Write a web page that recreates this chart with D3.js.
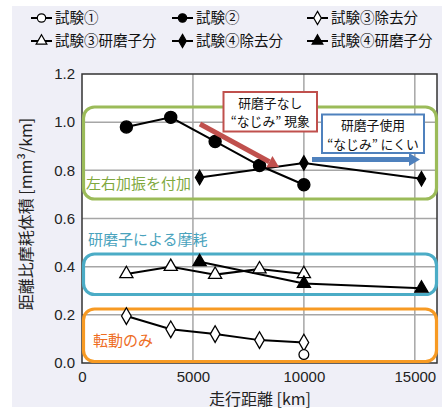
<!DOCTYPE html>
<html><head><meta charset="utf-8">
<script src="https://cdn.jsdelivr.net/npm/d3@7"></script>
<style>body{margin:0;background:#fff}svg{display:block}</style>
</head><body>
<svg id="c" width="442" height="416"></svg>
<script>
const xTicks = [0, 5000, 10000, 15000];
const yTicks = [0.0, 0.2, 0.4, 0.6, 0.8, 1.0, 1.2];
const test1X = [10000];
const test1Y = [0.035];
const test2X = [2000, 4000, 6000, 8000, 10000];
const test2Y = [0.98, 1.02, 0.92, 0.82, 0.74];
const test3RemX = [2000, 4000, 6000, 8000, 10000];
const test3RemY = [0.195, 0.14, 0.12, 0.095, 0.085];
const test3AbrX = [2000, 4000, 6000, 8000, 10000];
const test3AbrY = [0.37, 0.40, 0.367, 0.39, 0.37];
const test4RemX = [5300, 10000, 15300];
const test4RemY = [0.77, 0.83, 0.765];
const test4AbrX = [5300, 10000, 15300];
const test4AbrY = [0.42, 0.33, 0.31];
const legendLabels = ["試験①","試験②","試験③除去分","試験③研磨子分","試験④除去分","試験④研磨子分"];

const svg = d3.select("#c");
const JP = "'Noto Sans CJK JP', sans-serif";
const NUM = "'Liberation Sans', Arial, sans-serif";
const M = {l:82, r:437, t:74, b:363};
const x = d3.scaleLinear().domain([0,16000]).range([M.l, M.r]);
const y = d3.scaleLinear().domain([0,1.2]).range([M.b, M.t]);

svg.append("rect").attr("x",12).attr("y",6).attr("width",430).attr("height",401).attr("fill","#efeff7");
svg.append("rect").attr("x",M.l).attr("y",M.t).attr("width",M.r-M.l).attr("height",M.b-M.t).attr("fill","#fff");

// grid
svg.append("g").selectAll("line").data(yTicks.filter(d=>d>0&&d<1.2)).join("line")
  .attr("x1",M.l).attr("x2",M.r).attr("y1",d=>y(d)).attr("y2",d=>y(d))
  .attr("stroke","#a6a6a6").attr("stroke-width",1.5);
svg.append("g").selectAll("line").data(xTicks.filter(d=>d>0)).join("line")
  .attr("y1",M.t).attr("y2",M.b).attr("x1",d=>x(d)).attr("x2",d=>x(d))
  .attr("stroke","#a6a6a6").attr("stroke-width",1.5);

// axes
const ya = svg.append("g").attr("transform",`translate(${M.l},0)`)
  .call(d3.axisLeft(y).tickValues(yTicks).tickFormat(d3.format(".1f")).tickSize(0).tickPadding(7));
const xa = svg.append("g").attr("transform",`translate(0,${M.b})`)
  .call(d3.axisBottom(x).tickValues(xTicks).tickFormat(d=>d).tickSize(0).tickPadding(8));
[ya,xa].forEach(a=>{a.select(".domain").remove();a.selectAll("text").attr("font-family",NUM).attr("font-size",15).attr("fill","#222");});
svg.append("rect").attr("x",M.l).attr("y",M.t).attr("width",M.r-M.l).attr("height",M.b-M.t)
  .attr("fill","none").attr("stroke","#333").attr("stroke-width",1.5);

svg.append("text").attr("transform","translate(32,214) rotate(-90)").attr("text-anchor","middle")
  .attr("font-family",JP).attr("font-size",16).attr("fill","#222").text("距離比摩耗体積 [mm³/km]");
svg.append("text").attr("x",260).attr("y",405).attr("text-anchor","middle")
  .attr("font-family",JP).attr("font-size",16).attr("fill","#222").text("走行距離 [km]");

// region boxes
function rbox(x0,y0,x1,y1,col){
  svg.append("rect").attr("x",x0).attr("y",y0).attr("width",x1-x0).attr("height",y1-y0)
    .attr("rx",11).attr("fill","none").attr("stroke",col).attr("stroke-width",3.2);
}
rbox(83.5,107,436.5,199,"#9bbb59");
rbox(83.5,254,436.5,294.5,"#4bacc6");
rbox(83.5,309,436.5,361.5,"#f79a23");
svg.append("text").attr("x",86).attr("y",189).attr("font-family",JP).attr("font-size",15).attr("fill","#7fa83e").text("左右加振を付加");
svg.append("text").attr("x",88).attr("y",245).attr("font-family",JP).attr("font-size",15).attr("fill","#4aa3bd").text("研磨子による摩耗");
svg.append("text").attr("x",93).attr("y",346).attr("font-family",JP).attr("font-size",15).attr("fill","#ee6d1f").text("転動のみ");

// data lines
const series = [
  {xs:test2X, ys:test2Y, sym:"circle", fill:"#000", size:115},
  {xs:test4RemX, ys:test4RemY, sym:"diamond", fill:"#000", size:60},
  {xs:test3AbrX, ys:test3AbrY, sym:"triangle", fill:"#fff", size:75},
  {xs:test4AbrX, ys:test4AbrY, sym:"triangle", fill:"#000", size:75},
  {xs:test3RemX, ys:test3RemY, sym:"diamond", fill:"#fff", size:80},
  {xs:test1X, ys:test1Y, sym:"circle", fill:"#fff", size:75},
];
const symMap = {circle:d3.symbolCircle, diamond:d3.symbolDiamond, triangle:d3.symbolTriangle};
const line = d3.line().x(d=>x(d[0])).y(d=>y(d[1]));
series.forEach(s=>{
  const pts = s.xs.map((v,i)=>[v,s.ys[i]]);
  svg.append("path").attr("d",line(pts)).attr("fill","none").attr("stroke","#000").attr("stroke-width",2);
});
series.forEach(s=>{
  const pts = s.xs.map((v,i)=>[v,s.ys[i]]);
  svg.append("g").selectAll("path").data(pts).join("path")
    .attr("transform",d=>`translate(${x(d[0])},${y(d[1])})`)
    .attr("d",d3.symbol(symMap[s.sym],s.size))
    .attr("fill",s.fill).attr("stroke","#000").attr("stroke-width",1.3);
});

// arrows
function arrow(x0,y0,x1,y1,col){
  const a=Math.atan2(y1-y0,x1-x0), L=11, W=6.5;
  const bx=x1-L*Math.cos(a), by=y1-L*Math.sin(a);
  svg.append("line").attr("x1",x0).attr("y1",y0).attr("x2",bx).attr("y2",by).attr("stroke",col).attr("stroke-width",5);
  svg.append("path").attr("d",`M${x1},${y1}L${bx+W*Math.sin(a)},${by-W*Math.cos(a)}L${bx-W*Math.sin(a)},${by+W*Math.cos(a)}Z`).attr("fill",col);
}
arrow(200,124,279,167,"#c0504d");
arrow(312,159.5,420,159.5,"#4f81bd");

// callout boxes
function callout(x0,y0,x1,y1,col,lines){
  svg.append("rect").attr("x",x0).attr("y",y0).attr("width",x1-x0).attr("height",y1-y0)
    .attr("fill","#fff").attr("stroke",col).attr("stroke-width",2);
  lines.forEach((t,i)=>svg.append("text").attr("x",(x0+x1)/2).attr("y",y0+15.5+i*18.7)
    .attr("text-anchor","middle").attr("font-family",JP).attr("font-size",12.8).attr("fill","#111").text(t));
}
callout(223.5,92,317,131.5,"#c0504d",["研磨子なし","“なじみ” 現象"]);
callout(322,114.5,424,153,"#4f81bd",["研磨子使用","“なじみ” にくい"]);

// legend
const lx=[31,172,307], ly=[18,41];
legendLabels.forEach((lab,i)=>{
  const cx=lx[i%3], cy=ly[Math.floor(i/3)];
  const sIdx=[5,0,4,2,1,3][i];
  const s=series[sIdx];
  svg.append("line").attr("x1",cx).attr("x2",cx+21).attr("y1",cy).attr("y2",cy).attr("stroke","#000").attr("stroke-width",2);
  svg.append("path").attr("transform",`translate(${cx+10.5},${cy})`)
    .attr("d",d3.symbol(symMap[s.sym],s.sym==="circle"?55:50)).attr("fill",s.fill).attr("stroke","#000").attr("stroke-width",1.2);
  svg.append("text").attr("x",cx+24).attr("y",cy+5).attr("font-family",JP).attr("font-size",14.5).attr("fill","#111").text(lab);
});
</script>
</body></html>
